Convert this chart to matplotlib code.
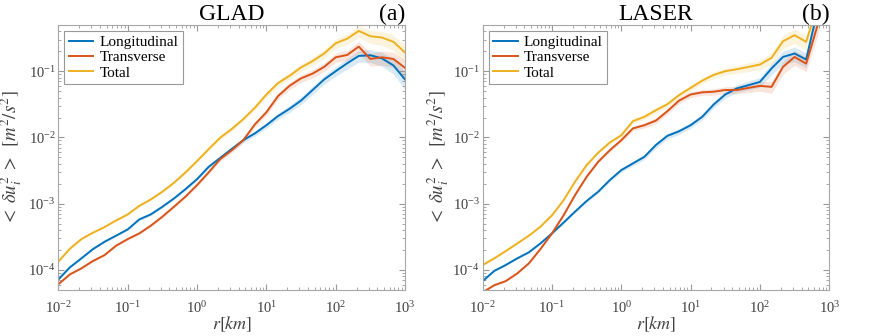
import numpy as np
import matplotlib.pyplot as plt

plt.rcParams['font.family'] = ['Liberation Serif', 'DejaVu Serif']
plt.rcParams['mathtext.fontset'] = 'stix'

# separation r [km], log bins (1/6 decade)
r = [0.01, 0.0147, 0.0215, 0.0316, 0.0464, 0.0681,
     0.1, 0.147, 0.215, 0.316, 0.464, 0.681,
     1.0, 1.47, 2.15, 3.16, 4.64, 6.81,
     10.0, 14.7, 21.5, 31.6, 46.4, 68.1,
     100.0, 147.0, 215.0, 316.0, 464.0, 681.0, 1000.0]

# GLAD structure functions
glad_long = [7.2e-5, 1.1e-4, 1.5e-4, 2.07e-4, 2.67e-4, 3.3e-4,
             4.1e-4, 5.8e-4, 6.9e-4, 9.0e-4, 1.2e-3, 1.66e-3,
             2.35e-3, 3.6e-3, 4.9e-3, 6.7e-3, 9.1e-3, 1.15e-2,
             1.53e-2, 2.1e-2, 2.7e-2, 3.6e-2, 5.2e-2, 7.5e-2,
             0.1, 0.132, 0.17, 0.174, 0.156, 0.122, 0.075]
glad_trans = [6.1e-5, 8.6e-5, 1.06e-4, 1.37e-4, 1.68e-4, 2.33e-4,
              2.93e-4, 3.57e-4, 4.66e-4, 6.37e-4, 9.0e-4, 1.28e-3,
              1.91e-3, 2.97e-3, 4.7e-3, 6.4e-3, 9.1e-3, 1.57e-2,
              2.4e-2, 4.2e-2, 6.0e-2, 7.8e-2, 9.2e-2, 0.116,
              0.162, 0.176, 0.235, 0.153, 0.162, 0.153, 0.112]
glad_total = [1.34e-4, 2.1e-4, 2.93e-4, 3.66e-4, 4.45e-4, 5.6e-4,
              6.9e-4, 9.3e-4, 1.16e-3, 1.52e-3, 2.07e-3, 2.97e-3,
              4.4e-3, 6.67e-3, 9.9e-3, 1.34e-2, 1.89e-2, 2.8e-2,
              4.45e-2, 6.6e-2, 8.5e-2, 0.114, 0.142, 0.185,
              0.264, 0.31, 0.405, 0.337, 0.322, 0.277, 0.191]
glad_err = [0.03, 0.03, 0.03, 0.03, 0.03, 0.03,
            0.04, 0.04, 0.04, 0.04, 0.04, 0.05,
            0.05, 0.06, 0.07, 0.08, 0.08, 0.09,
            0.10, 0.11, 0.12, 0.13, 0.14, 0.15,
            0.16, 0.18, 0.20, 0.22, 0.24, 0.26, 0.30]

# LASER structure functions
laser_long = [6.8e-5, 9.7e-5, 1.19e-4, 1.5e-4, 1.85e-4, 2.52e-4,
              3.57e-4, 5.2e-4, 7.6e-4, 1.1e-3, 1.52e-3, 2.27e-3,
              3.22e-3, 4.06e-3, 5.1e-3, 7.7e-3, 1.06e-2, 1.24e-2,
              1.53e-2, 2.05e-2, 3.14e-2, 4.45e-2, 5.5e-2, 6.15e-2,
              6.9e-2, 0.11, 0.164, 0.185, 0.15, 0.85, 3.0]
laser_trans = [4.6e-5, 5.9e-5, 6.8e-5, 8.9e-5, 1.26e-4, 2.07e-4,
               3.57e-4, 6.7e-4, 1.35e-3, 2.55e-3, 4.3e-3, 6.4e-3,
               9.1e-3, 1.37e-2, 1.53e-2, 1.8e-2, 2.5e-2, 3.6e-2,
               4.45e-2, 4.8e-2, 4.9e-2, 5.2e-2, 5.2e-2, 5.6e-2,
               6.0e-2, 5.8e-2, 0.116, 0.164, 0.13, 0.5, 3.0]
laser_total = [1.19e-4, 1.5e-4, 1.93e-4, 2.52e-4, 3.3e-4, 4.5e-4,
               6.7e-4, 1.13e-3, 2.15e-3, 3.83e-3, 5.9e-3, 8.4e-3,
               1.08e-2, 1.76e-2, 2.05e-2, 2.58e-2, 3.18e-2, 4.35e-2,
               5.6e-2, 7.2e-2, 8.8e-2, 0.1, 0.107, 0.116,
               0.126, 0.159, 0.283, 0.349, 0.277, 1.0, 3.0]
laser_err = [0.03, 0.03, 0.03, 0.03, 0.03, 0.03,
             0.04, 0.04, 0.04, 0.05, 0.05, 0.06,
             0.07, 0.08, 0.09, 0.10, 0.10, 0.10,
             0.10, 0.10, 0.11, 0.12, 0.13, 0.15,
             0.17, 0.20, 0.22, 0.25, 0.25, 0.30, 0.30]

colors = ['#0072BD', '#D95319', '#EDB120']
labels = ['Longitudinal', 'Transverse', 'Total']

fig = plt.figure(figsize=(8.72, 3.36), dpi=100)
ax1 = fig.add_axes([0.0669, 0.137, 0.3976, 0.789])
ax2 = fig.add_axes([0.5535, 0.137, 0.3975, 0.789])

panels = [
    (ax1, 'GLAD', '(a)', [glad_long, glad_trans, glad_total], glad_err, -0.098),
    (ax2, 'LASER', '(b)', [laser_long, laser_trans, laser_total], laser_err, -0.092),
]

x = np.array(r)
for ax, name, tag, series, err, lab_x in panels:
    e = np.array(err)
    for vals, c, lab in zip(series, colors, labels):
        v = np.array(vals)
        ax.fill_between(x, v * (1 - e), v * (1 + e), color=c, alpha=0.15, lw=0)
        ax.plot(x, v, color=c, lw=1.4, label=lab)
    ax.set_xscale('log')
    ax.set_yscale('log')
    ax.set_xlim(1e-2, 1e3)
    ax.set_ylim(5e-5, 0.5)
    ax.tick_params(which='both', direction='in', top=True, right=True,
                   colors='0.6', labelcolor='0.25', labelsize=10.5)
    ax.tick_params(axis='y', pad=2)
    ax.tick_params(axis='x', pad=7)
    ax.tick_params(which='major', length=4)
    ax.tick_params(which='minor', length=2)
    for s in ax.spines.values():
        s.set_color('0.65')
        s.set_linewidth(0.8)
    ax.set_xlabel(r'$r[km]$', fontsize=13, color='0.25', labelpad=-1)
    ax.set_ylabel(r'$<\;\delta u_i^2\;>\;\;[m^2/s^2]$', fontsize=13.5,
                  color='0.25')
    ax.yaxis.set_label_coords(lab_x, 0.5)
    ax.set_title(name, fontsize=17, pad=2)
    ax.set_title(tag, fontsize=17, pad=2, loc='right')
    leg = ax.legend(loc='upper left', fontsize=11, handlelength=1.6,
                    borderaxespad=0.4, fancybox=False, framealpha=1,
                    borderpad=0.3, labelspacing=0.1, handletextpad=0.4)
    leg.get_frame().set_edgecolor('0.6')
    leg.get_frame().set_linewidth(0.8)

plt.savefig('out.png', dpi=100)
